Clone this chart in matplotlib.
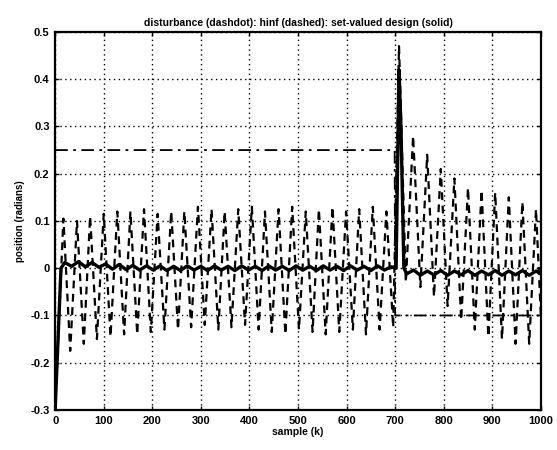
import numpy as np
import matplotlib
matplotlib.use('Agg')
import matplotlib.pyplot as plt

# --- values ---
# disturbance (dashdot): a step at k = 700
dist_k = [0, 699, 700, 1000]
dist_v = [0.25, 0.25, -0.10, -0.10]

# hinf response (dashed): turning points of the oscillation
hinf_k = [0, 17, 31, 45, 59, 72, 86, 100, 114, 128, 142, 155, 169, 183, 197,
          211, 225, 239, 253, 266, 280, 294, 308, 322, 336, 349, 363, 377,
          391, 405, 419, 432, 446, 460, 474, 488, 502, 516, 530, 543, 557,
          571, 585, 599, 613, 626, 640, 654, 668, 682, 696,
          708, 722, 737, 752, 766, 780, 794, 808, 822, 836, 850, 864, 878,
          892, 906, 920, 934, 948, 962, 976, 990, 1000]
hinf_v = [-0.30, 0.105, -0.175, 0.100, -0.160, 0.110, -0.150, 0.115, -0.145,
          0.120, -0.140, 0.120, -0.140, 0.125, -0.135, 0.115, -0.130, 0.120,
          -0.130, 0.120, -0.125, 0.130, -0.120, 0.125, -0.130, 0.120, -0.125,
          0.125, -0.120, 0.130, -0.130, 0.120, -0.135, 0.125, -0.140, 0.130,
          -0.130, 0.120, -0.135, 0.125, -0.140, 0.130, -0.135, 0.120, -0.130,
          0.125, -0.140, 0.130, -0.130, 0.120, -0.125,
          0.470, -0.030, 0.280, -0.040, 0.240, -0.060, 0.210, -0.080, 0.190,
          -0.110, 0.170, -0.130, 0.165, -0.145, 0.160, -0.150, 0.150, -0.160,
          0.140, -0.160, 0.125, -0.100]

# set-valued design (solid)
sv_k = [0, 6, 12, 20, 34, 48, 62, 76, 90, 104, 118, 132, 146, 160, 174, 188,
        202, 216, 230, 244, 258, 272, 286, 300, 314, 328, 342, 356, 370, 384,
        398, 412, 426, 440, 454, 468, 482, 496, 510, 524, 538, 552, 566, 580,
        594, 608, 622, 636, 650, 664, 678, 692, 702, 708, 712, 718, 724, 738,
        752, 766, 780, 794, 808, 822, 836, 850, 864, 878, 892, 906, 920, 934,
        948, 962, 976, 990, 1000]
sv_v = [-0.30, -0.15, 0.00, 0.012, 0.004, 0.014, 0.003, 0.012, 0.002, 0.009,
        -0.002, 0.008, -0.003, 0.006, -0.004, 0.005, -0.004, 0.005, -0.005,
        0.004, -0.005, 0.005, -0.004, 0.004, -0.005, 0.005, -0.004, 0.004,
        -0.005, 0.005, -0.004, 0.004, -0.005, 0.005, -0.004, 0.004, -0.005,
        0.005, -0.004, 0.004, -0.005, 0.005, -0.004, 0.004, -0.005, 0.005,
        -0.004, 0.004, -0.005, 0.005, -0.004, 0.003, 0.000, 0.420, 0.300,
        0.000, -0.012, -0.004, -0.015, -0.006, -0.014, -0.005, -0.015,
        -0.006, -0.014, -0.005, -0.015, -0.006, -0.014, -0.005, -0.015,
        -0.006, -0.014, -0.005, -0.015, -0.006, -0.012]

x_ticks = [0, 100, 200, 300, 400, 500, 600, 700, 800, 900, 1000]
y_ticks = [-0.3, -0.2, -0.1, 0, 0.1, 0.2, 0.3, 0.4, 0.5]
y_tick_labels = ['-0.3', '-0.2', '-0.1', '0', '0.1', '0.2', '0.3', '0.4', '0.5']

plt.rcParams['font.family'] = ['Liberation Sans', 'DejaVu Sans']
plt.rcParams['font.weight'] = 'bold'

fig = plt.figure(figsize=(5.57, 4.5), dpi=100)
ax = fig.add_axes([0.099, 0.089, 0.872, 0.840])

ax.plot(dist_k, dist_v, color='black', lw=1.3, linestyle=(0, (7, 3, 1.5, 3)))
ax.plot(hinf_k, hinf_v, color='black', lw=1.6, linestyle=(0, (3.5, 2.5)))
ax.plot(sv_k, sv_v, color='black', lw=2.4, solid_joinstyle='round')

ax.set_xlim(0, 1000)
ax.set_ylim(-0.3, 0.5)
ax.set_xticks(x_ticks)
ax.set_yticks(y_ticks)
ax.set_yticklabels(y_tick_labels)
ax.tick_params(direction='in', length=3, labelsize=8, width=1,
               top=True, right=True, pad=4)
ax.grid(True, color='black', linestyle=(0, (1, 2.5)), lw=1.0)
for s in ax.spines.values():
    s.set_linewidth(1.6)

ax.set_title('disturbance (dashdot): hinf (dashed): set-valued design (solid)',
             fontsize=7.5, fontweight='bold', pad=4)
ax.set_xlabel('sample (k)', fontsize=7.5, fontweight='bold', labelpad=1)
ax.set_ylabel('position (radians)', fontsize=7, fontweight='bold', labelpad=4)

fig.savefig('out.png', dpi=100)
